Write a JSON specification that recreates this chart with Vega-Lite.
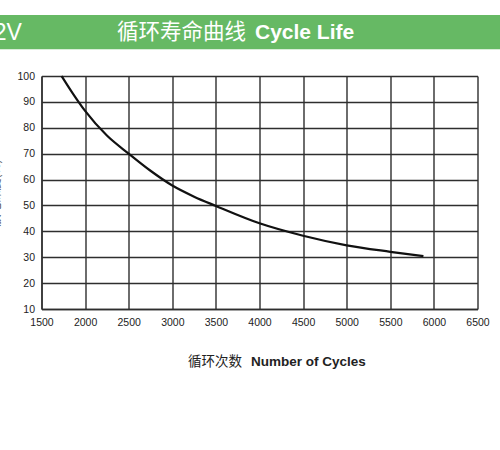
{
  "$schema": "https://vega.github.io/schema/vega-lite/v6.json",
  "width": 436,
  "height": 233,
  "autosize": "none",
  "padding": {"left": 41.5, "top": 76, "right": 22.5, "bottom": 141},
  "background": "white",
  "config": {
    "view": {"stroke": null},
    "axis": {
      "grid": true,
      "gridColor": "#2e2e2e",
      "gridWidth": 1.4,
      "gridOpacity": 1,
      "domainColor": "#2e2e2e",
      "domainWidth": 1.4,
      "ticks": false,
      "labelFont": "Liberation Sans",
      "labelFontSize": 10.5,
      "labelColor": "#222222",
      "labelOverlap": false,
      "format": "d"
    }
  },
  "layer": [
    {
      "data": {
        "values": [
          {"cycles": 1730, "dod": 100},
          {"cycles": 1860, "dod": 93.2},
          {"cycles": 2000, "dod": 86.5},
          {"cycles": 2250, "dod": 77},
          {"cycles": 2500, "dod": 70},
          {"cycles": 2750, "dod": 63.4},
          {"cycles": 3000, "dod": 57.7},
          {"cycles": 3250, "dod": 53.4},
          {"cycles": 3500, "dod": 49.8},
          {"cycles": 4000, "dod": 43.1},
          {"cycles": 4500, "dod": 38.3},
          {"cycles": 5000, "dod": 34.6},
          {"cycles": 5500, "dod": 32.1},
          {"cycles": 5880, "dod": 30.4}
        ]
      },
      "mark": {"type": "line", "color": "#111111", "strokeWidth": 2.2, "interpolate": "monotone"},
      "encoding": {
        "x": {
          "field": "cycles",
          "type": "quantitative",
          "scale": {"domain": [1500, 6500], "nice": false, "zero": false},
          "axis": {"values": [1500, 2000, 2500, 3000, 3500, 4000, 4500, 5000, 5500, 6000, 6500], "title": null, "labelPadding": 8, "labelFlush": false, "labelOverlap": false}
        },
        "y": {
          "field": "dod",
          "type": "quantitative",
          "scale": {"domain": [10, 100], "nice": false, "zero": false},
          "axis": {
            "values": [10, 20, 30, 40, 50, 60, 70, 80, 90, 100],
            "tickCount": 10,
            "labelPadding": 7,
            "labelFlush": false,
            "labelOverlap": false,
            "labelFontSize": 10.5,
            "title": "放电深度(%)",
            "titleFont": "Noto Sans CJK SC",
            "titleFontSize": 12,
            "titleFontWeight": "normal",
            "titleColor": "#555555",
            "titleX": -39
          }
        }
      }
    },
    {
      "data": {"values": [{}]},
      "mark": {"type": "rect", "color": "#66b964"},
      "encoding": {
        "x": {"datum": 1024, "type": "quantitative"},
        "x2": {"datum": 6758},
        "y": {"datum": 110.3, "type": "quantitative"},
        "y2": {"datum": 123.6}
      }
    },
    {
      "data": {"values": [{}]},
      "mark": {"type": "text", "text": "12V", "align": "right", "baseline": "middle", "font": "Liberation Sans", "fontSize": 23, "color": "white"},
      "encoding": {
        "x": {"datum": 1276, "type": "quantitative"},
        "y": {"datum": 116.6, "type": "quantitative"}
      }
    },
    {
      "data": {"values": [{}]},
      "mark": {"type": "text", "text": "循环寿命曲线", "align": "left", "baseline": "middle", "font": "Noto Sans CJK SC", "fontSize": 21.5, "color": "white"},
      "encoding": {
        "x": {"datum": 2366, "type": "quantitative"},
        "y": {"datum": 116.6, "type": "quantitative"}
      }
    },
    {
      "data": {"values": [{}]},
      "mark": {"type": "text", "text": "Cycle Life", "align": "left", "baseline": "middle", "font": "Liberation Sans", "fontSize": 21, "fontWeight": "bold", "color": "white"},
      "encoding": {
        "x": {"datum": 3948, "type": "quantitative"},
        "y": {"datum": 116.6, "type": "quantitative"}
      }
    },
    {
      "data": {"values": [{}]},
      "mark": {"type": "text", "text": "循环次数", "align": "left", "baseline": "middle", "font": "Noto Sans CJK SC", "fontSize": 13.5, "color": "#222222"},
      "encoding": {
        "x": {"datum": 3180, "type": "quantitative"},
        "y": {"datum": -10.5, "type": "quantitative"}
      }
    },
    {
      "data": {"values": [{}]},
      "mark": {"type": "text", "text": "Number of Cycles", "align": "left", "baseline": "middle", "font": "Liberation Sans", "fontSize": 13.5, "fontWeight": "bold", "color": "#222222"},
      "encoding": {
        "x": {"datum": 3903, "type": "quantitative"},
        "y": {"datum": -10.5, "type": "quantitative"}
      }
    }
  ]
}
